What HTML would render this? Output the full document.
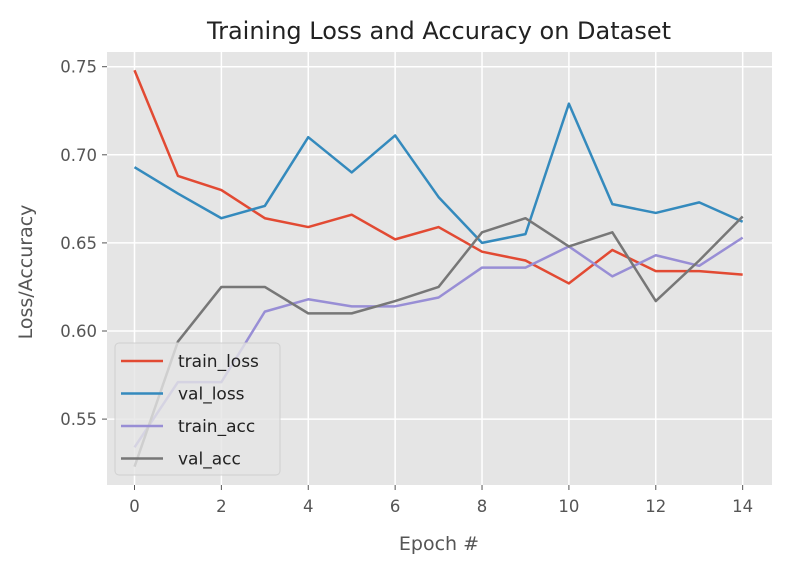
<!DOCTYPE html>
<html><head><meta charset="utf-8"><style>
body{margin:0;background:#fff;}
svg text{font-family:"DejaVu Sans","Liberation Sans",sans-serif;}
</style></head><body>
<svg id="chart" width="786" height="565" xmlns="http://www.w3.org/2000/svg">
<rect width="786" height="565" fill="#fff"/>
<rect x="107" y="52" width="665" height="433" fill="#e5e5e5"/>
<g id="grid"></g>
<g id="ticks"></g>
<g id="lines"></g>
<text x="439" y="39" font-size="24" text-anchor="middle" fill="#222">Training Loss and Accuracy on Dataset</text>
<text x="439" y="550" font-size="19" text-anchor="middle" fill="#555">Epoch #</text>
<text transform="translate(32,272) rotate(-90)" font-size="19" text-anchor="middle" fill="#555">Loss/Accuracy</text>
<g id="legend"></g>
</svg>
<script>
const epochs=[0,1,2,3,4,5,6,7,8,9,10,11,12,13,14];
const trainLoss=[0.748,0.688,0.680,0.664,0.659,0.666,0.652,0.659,0.645,0.640,0.627,0.646,0.634,0.634,0.632];
const valLoss=[0.693,0.678,0.664,0.671,0.710,0.690,0.711,0.676,0.650,0.655,0.729,0.672,0.667,0.673,0.662];
const trainAcc=[0.534,0.571,0.571,0.611,0.618,0.614,0.614,0.619,0.636,0.636,0.648,0.631,0.643,0.637,0.653];
const valAcc=[0.523,0.594,0.625,0.625,0.610,0.610,0.617,0.625,0.656,0.664,0.648,0.656,0.617,0.640,0.665];
const xTicks=[0,2,4,6,8,10,12,14];
const yTicks=[0.55,0.60,0.65,0.70,0.75];
const seriesNames=["train_loss","val_loss","train_acc","val_acc"];
const seriesData=[trainLoss,valLoss,trainAcc,valAcc];
const colors=["#e24a33","#348abd","#988ed5","#777777"];
const X=v=>134.5+v*43.44;
const Y=v=>66.7+(0.75-v)*1762;
const NS="http://www.w3.org/2000/svg";
function mk(tag,attrs,parent){const e=document.createElementNS(NS,tag);for(const k in attrs)e.setAttribute(k,attrs[k]);parent.appendChild(e);return e;}
const grid=document.getElementById('grid'),ticks=document.getElementById('ticks'),lines=document.getElementById('lines'),legend=document.getElementById('legend');
xTicks.forEach(t=>{
  const g=mk('line',{x1:X(t),x2:X(t),y1:52,y2:485,stroke:'#fff','stroke-width':1.5},grid);
  
  
  mk('line',{x1:X(t),x2:X(t),y1:485,y2:490,stroke:'#555','stroke-width':1},ticks);
  const tx=mk('text',{x:X(t),y:512,'font-size':16.5,'text-anchor':'middle',fill:'#555'},ticks);
  tx.textContent=t;
  
  
});
yTicks.forEach(t=>{
  const g=mk('line',{x1:107,x2:772,y1:Y(t),y2:Y(t),stroke:'#fff','stroke-width':1.5},grid);
  
  
  mk('line',{x1:102,x2:107,y1:Y(t),y2:Y(t),stroke:'#555','stroke-width':1},ticks);
  const tx=mk('text',{x:97,y:Y(t)+6,'font-size':16.5,'text-anchor':'end',fill:'#555'},ticks);
  tx.textContent=t.toFixed(2);
  
  
});
seriesData.forEach((d,i)=>{
  const p=mk('polyline',{points:d.map((v,j)=>X(epochs[j])+','+Y(v)).join(' '),fill:'none',stroke:colors[i],'stroke-width':2.5,'stroke-linejoin':'round'},lines);
  
  
});
mk('rect',{x:115,y:343,width:165,height:132,rx:4,fill:'#e5e5e5','fill-opacity':0.8,stroke:'#d0d0d0'},legend);
seriesNames.forEach((n,i)=>{
  const y=361+i*32.5;
  const l=mk('line',{x1:121,x2:163,y1:y,y2:y,stroke:colors[i],'stroke-width':2.5},legend);
  
  
  const t=mk('text',{x:178,y:y+6,'font-size':17,fill:'#222'},legend);
  t.textContent=n;
  
  
});
</script>
</body></html>
